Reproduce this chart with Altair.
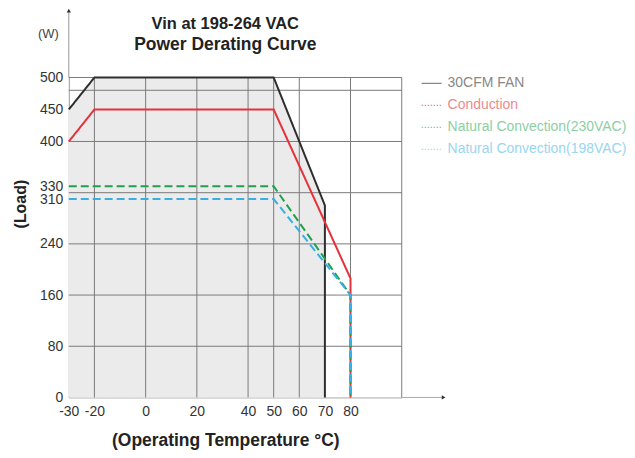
import altair as alt
import pandas as pd

# ---- data ----
series = ["30CFM FAN", "Conduction", "Natural Convection(230VAC)", "Natural Convection(198VAC)"]
fan_x = [-30, -20, 50, 70, 70]
fan_y = [450, 500, 500, 300, 0]
cond_x = [-30, -20, 50, 80, 80]
cond_y = [400, 450, 450, 186, 0]
nc230_x = [-30, 50, 80, 80]
nc230_y = [330, 330, 160, 0]
nc198_x = [-30, 50, 80, 80]
nc198_y = [310, 310, 160, 0]

x_ticks = [-30, -20, 0, 20, 40, 50, 60, 70, 80]
y_ticks = [0, 80, 160, 240, 310, 330, 400, 450, 500]
grid_x = [-20, 0, 20, 40, 50, 60, 80, 100]
grid_y = [80, 160, 240, 320, 400, 480, 500]
title_lines = ["Vin at 198-264 VAC", "Power Derating Curve"]

line_colors = ["#2e2e2e", "#e5323a", "#22a04e", "#38aee3"]
text_colors = ["#333333", "#e5323a", "#22a04e", "#38aee3"]
dashes = [[1, 0], [1, 0], [8, 4], [8, 4]]

FONT = "Liberation Sans"
W, H = 334, 321

rows = []
for name, xs, ys in zip(series, [fan_x, cond_x, nc230_x, nc198_x], [fan_y, cond_y, nc230_y, nc198_y]):
    for i, (a, b) in enumerate(zip(xs, ys)):
        rows.append({"series": name, "t": a, "load": b, "idx": i})
lines_df = pd.DataFrame(rows)
fan_area_df = pd.DataFrame({"t": fan_x[:-1], "load": fan_y[:-1]})

xscale = alt.Scale(domain=[-30, 100], nice=False, zero=False)
yscale = alt.Scale(domain=[0, 500], nice=False)

area = alt.Chart(fan_area_df).mark_area(color="#ebebeb", opacity=1).encode(
    x=alt.X("t:Q", scale=xscale,
            axis=alt.Axis(values=x_ticks, grid=False, ticks=False, domainColor="#aaaaaa",
                          labelFont=FONT, labelFontSize=14, labelColor="#333333", labelPadding=7,
                          labelOverlap=False, labelFlush=False, labelBound=False,
                          labelExpr="'' + datum.value",
                          title="(Operating Temperature °C)", titleFont=FONT, titleFontSize=17.5,
                          titleFontWeight="bold", titleColor="#222222", titleX=157, titleY=48,
                          titleAlign="center", titleBaseline="alphabetic")),
    y=alt.Y("load:Q", scale=yscale,
            axis=alt.Axis(values=y_ticks, grid=False, ticks=False, domainColor="#999999",
                          labelFont=FONT, labelFontSize=14, labelColor="#333333", labelPadding=6,
                          labelOverlap=False, labelBound=False, labelFlush=False,
                          title="(W)", titleAngle=0, titleFont=FONT, titleFontSize=13,
                          titleFontWeight="normal", titleColor="#444444", titleX=-21, titleY=-40,
                          titleAlign="center", titleBaseline="alphabetic")),
)

gx_df = pd.DataFrame({"gx": grid_x})
gy_df = pd.DataFrame({"gy": grid_y})
vgrid = alt.Chart(gx_df).mark_rule(color="#7a7a7a", strokeWidth=1).encode(
    x="gx:Q", y=alt.datum(0), y2=alt.datum(500))
hgrid = alt.Chart(gy_df).mark_rule(color="#7a7a7a", strokeWidth=1).encode(
    y="gy:Q", x=alt.datum(-30), x2=alt.datum(100))

lines = alt.Chart(lines_df).mark_line(strokeWidth=2).encode(
    x="t:Q", y="load:Q",
    color=alt.Color("series:N", scale=alt.Scale(domain=series, range=line_colors), legend=None),
    strokeDash=alt.StrokeDash("series:N", scale=alt.Scale(domain=series, range=dashes), legend=None),
    order="idx:Q",
    detail="series:N",
)

one = pd.DataFrame({"a": [0]})
axis_ext = alt.Chart(one).mark_rule(color="#999999", strokeWidth=1).encode(
    x=alt.value(0), y=alt.value(0), y2=alt.value(-66))
axis_ext_x = alt.Chart(one).mark_rule(color="#aaaaaa", strokeWidth=1).encode(
    x=alt.value(W), x2=alt.value(W + 42), y=alt.value(H))
arrow_up = alt.Chart(one).mark_point(
    shape="triangle-up", filled=True, size=18, color="#333333", opacity=1).encode(
    x=alt.value(0), y=alt.value(-67))
arrow_right = alt.Chart(one).mark_point(
    shape="triangle-right", filled=True, size=18, color="#333333", opacity=1).encode(
    x=alt.value(W + 42), y=alt.value(H))
load_title = alt.Chart(one).mark_text(
    text="(Load)", angle=270, font=FONT, fontSize=16, fontWeight="bold", color="#222222",
    align="center", baseline="middle").encode(x=alt.value(-48), y=alt.value(127))
title1 = alt.Chart(one).mark_text(
    text=title_lines[0], font=FONT, fontSize=16.5, fontWeight="bold", color="#222222",
    align="center", baseline="middle").encode(x=alt.value(157), y=alt.value(-54))
title2 = alt.Chart(one).mark_text(
    text=title_lines[1], font=FONT, fontSize=17.5, fontWeight="bold", color="#222222",
    align="center", baseline="middle").encode(x=alt.value(157), y=alt.value(-33))

main = alt.layer(area, vgrid, hgrid, lines, axis_ext, axis_ext_x, arrow_up, arrow_right,
                 load_title, title1, title2).properties(width=W, height=H)

leg_df = pd.DataFrame({"series": series})
yleg = alt.Y("series:N", scale=alt.Scale(type="point", domain=series, range=[6, 72], padding=0), axis=None)
leg_line = alt.Chart(leg_df).mark_rule(strokeWidth=1.2).encode(
    x=alt.value(0), x2=alt.value(20), y=yleg,
    color=alt.Color("series:N", scale=alt.Scale(domain=series, range=["#888888", "#ee8a8f", "#8ccfa5", "#9ad6f0"]), legend=None),
    strokeDash=alt.StrokeDash("series:N", scale=alt.Scale(domain=series, range=[[1, 0], [1.5, 1.5], [1.5, 1.5], [1.5, 1.5]]), legend=None),
)
leg_text = alt.Chart(leg_df).mark_text(align="left", baseline="middle", font=FONT, fontSize=14).encode(
    x=alt.value(26), y=yleg, text="series:N",
    color=alt.Color("series:N", scale=alt.Scale(domain=series, range=text_colors), legend=None),
)
legend = alt.layer(leg_line, leg_text).properties(width=200, height=74)

chart = alt.hconcat(main, legend, spacing=20, bounds="flush").resolve_scale(
    color="independent", strokeDash="independent", y="independent"
).properties(padding={"left": 5, "top": 0, "right": 0, "bottom": 0}).configure_view(stroke=None)

chart.save("out.html", embed_options={"renderer": "svg", "actions": False})
